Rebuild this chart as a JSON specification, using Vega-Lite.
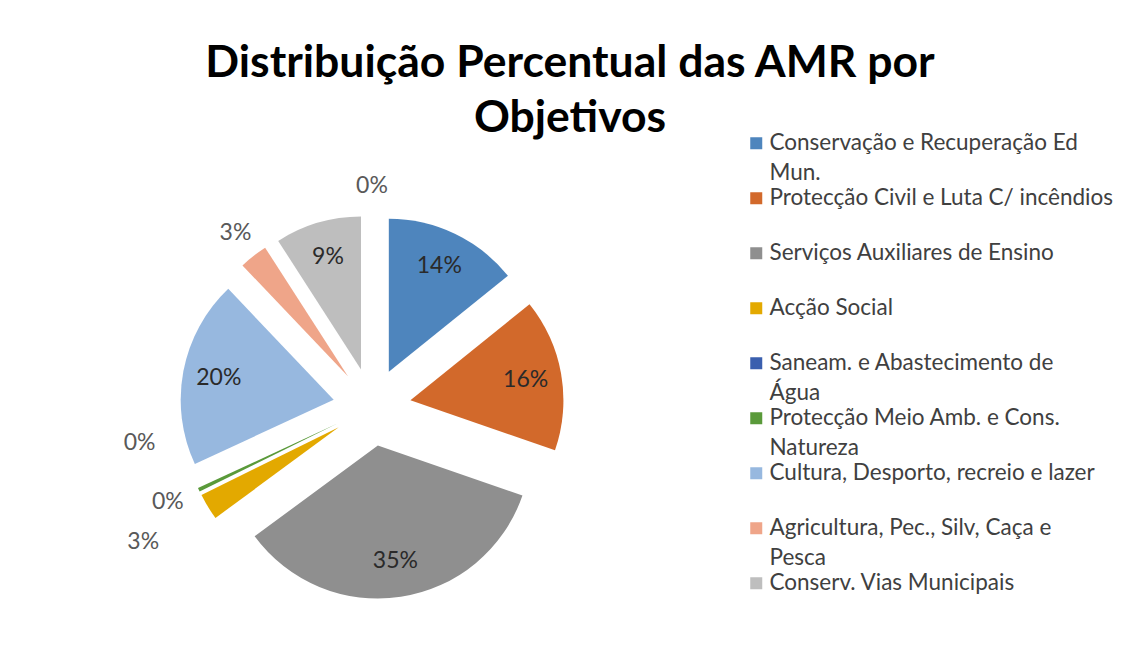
{
  "$schema": "https://vega.github.io/schema/vega-lite/v6.json",
  "width": 730,
  "height": 494,
  "autosize": {"type": "none"},
  "padding": {"left": 7, "top": 160, "right": 391, "bottom": 1},
  "background": "white",
  "config": {"view": {"stroke": null}, "font": "Lato"},
  "title": {
    "text": ["Distribuição Percentual das AMR por", "Objetivos"],
    "font": "Lato",
    "fontSize": 44.5,
    "fontWeight": "bold",
    "color": "#000000",
    "anchor": "middle",
    "dx": 198,
    "lineHeight": 55,
    "baseline": "bottom",
    "offset": -53
  },
  "data": {
    "values": [
      {"cat": "Conservação e Recuperação Ed Mun.", "pct": 0.142, "ordem": 1},
      {"cat": "Protecção Civil e Luta C/ incêndios", "pct": 0.161, "ordem": 2},
      {"cat": "Serviços Auxiliares de Ensino", "pct": 0.346, "ordem": 3},
      {"cat": "Acção Social", "pct": 0.028, "ordem": 4},
      {"cat": "Saneam.  e Abastecimento de Água", "pct": 0.0, "ordem": 5},
      {"cat": "Protecção Meio Amb. e Cons. Natureza", "pct": 0.004, "ordem": 6},
      {"cat": "Cultura, Desporto, recreio e lazer", "pct": 0.198, "ordem": 7},
      {"cat": "Agricultura, Pec., Silv, Caça e Pesca", "pct": 0.030, "ordem": 8},
      {"cat": "Conserv. Vias Municipais", "pct": 0.091, "ordem": 9},
      {"cat": "Outros", "pct": 0.0, "ordem": 10}
    ]
  },
  "layer": [
    {
      "mark": {
        "type": "arc",
        "radius": 153,
        "xOffset": {"expr": "39*sin((scale('theta', datum.pct_start)+scale('theta', datum.pct_end))/2)"},
        "yOffset": {"expr": "-39*cos((scale('theta', datum.pct_start)+scale('theta', datum.pct_end))/2)"}
      },
      "encoding": {
        "theta": {"field": "pct", "type": "quantitative", "stack": true},
        "order": {"field": "ordem", "type": "quantitative"},
        "color": {
          "field": "cat",
          "type": "nominal",
          "scale": {
            "domain": [
              "Conservação e Recuperação Ed Mun.",
              "Protecção Civil e Luta C/ incêndios",
              "Serviços Auxiliares de Ensino",
              "Acção Social",
              "Saneam.  e Abastecimento de Água",
              "Protecção Meio Amb. e Cons. Natureza",
              "Cultura, Desporto, recreio e lazer",
              "Agricultura, Pec., Silv, Caça e Pesca",
              "Conserv. Vias Municipais",
              "Outros"
            ],
            "range": ["#4E85BD", "#D2692B", "#8F8F8F", "#E3A900", "#3A5FAE", "#5A9A3A", "#97B8DF", "#EFA589", "#BEBEBE", "#2B4A7A"]
          },
          "legend": {
            "orient": "none",
            "legendX": 738,
            "legendY": -28,
            "title": null,
            "values": [
              "Conservação e Recuperação Ed Mun.",
              "Protecção Civil e Luta C/ incêndios",
              "Serviços Auxiliares de Ensino",
              "Acção Social",
              "Saneam.  e Abastecimento de Água",
              "Protecção Meio Amb. e Cons. Natureza",
              "Cultura, Desporto, recreio e lazer",
              "Agricultura, Pec., Silv, Caça e Pesca",
              "Conserv. Vias Municipais"
            ],
            "symbolType": "square",
            "symbolSize": 144,
            "symbolStrokeWidth": 0,
            "labelFont": "Lato",
            "labelFontSize": 22.5,
            "labelColor": "#404040",
            "labelLimit": 500,
            "labelOffset": 2,
            "labelBaseline": "top",
            "gridAlign": "all",
            "rowPadding": 2,
            "labelExpr": "datum.label === 'Conservação e Recuperação Ed Mun.' ? ['Conservação e Recuperação Ed', 'Mun.'] : datum.label === 'Saneam.  e Abastecimento de Água' ? ['Saneam.  e Abastecimento de', 'Água'] : datum.label === 'Protecção Meio Amb. e Cons. Natureza' ? ['Protecção Meio Amb. e Cons.', 'Natureza'] : datum.label === 'Agricultura, Pec., Silv, Caça e Pesca' ? ['Agricultura, Pec., Silv, Caça e', 'Pesca'] : datum.label",
            "encode": {"labels": {"update": {"dy": {"value": -11}, "lineHeight": {"value": 30}}}}
          }
        }
      }
    },
    {
      "mark": {
        "type": "text",
        "font": "Lato",
        "fontSize": 23,
        "radius": {"expr": "datum.pct >= 0.05 ? 156 : 221"},
        "fill": {"expr": "datum.pct >= 0.05 ? '#2A2A2A' : '#595959'"},
        "xOffset": {"expr": "datum.cat === 'Acção Social' ? -40 : datum.cat === 'Protecção Meio Amb. e Cons. Natureza' ? -33 : datum.cat === 'Saneam.  e Abastecimento de Água' ? -6 : 0"},
        "yOffset": {"expr": "datum.cat === 'Acção Social' ? 20 : datum.cat === 'Protecção Meio Amb. e Cons. Natureza' ? -59 : datum.cat === 'Saneam.  e Abastecimento de Água' ? -3 : 0"}
      },
      "encoding": {
        "theta": {"field": "pct", "type": "quantitative", "stack": true},
        "order": {"field": "ordem", "type": "quantitative"},
        "text": {"field": "pct", "type": "quantitative", "format": ".0%"}
      }
    }
  ]
}
